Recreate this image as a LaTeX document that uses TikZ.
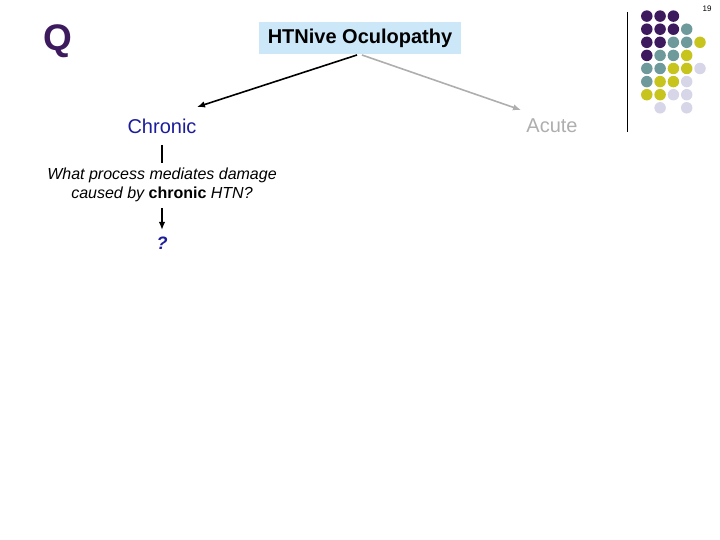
\documentclass[tikz,border=0pt]{standalone}
\usepackage{fontspec}
\setmainfont{Liberation Sans}
\usetikzlibrary{arrows.meta}
\definecolor{dpurple}{HTML}{3D1A5E}
\definecolor{dteal}{HTML}{6E9A9C}
\definecolor{dyellow}{HTML}{C8C41E}
\definecolor{dlav}{HTML}{D6D6E8}
\definecolor{boxblue}{HTML}{CCE8F8}
\definecolor{chblue}{HTML}{1C1C9C}
\definecolor{lgray}{HTML}{AEAEAE}
\begin{document}
\begin{tikzpicture}[x=1pt,y=-1pt,
  dot/.style={circle,inner sep=0pt,minimum size=11.5pt},
  lbl/.style={inner sep=1pt,font=\fontsize{20}{22}\selectfont},
  blackarrow/.style={-{Latex[length=8pt,width=6.5pt]},line width=1.6pt,black},
  grayarrow/.style={-{Latex[length=8pt,width=6.5pt]},line width=1.6pt,lgray}]
\useasboundingbox (0,0) rectangle (720,540);
% dots
\foreach \c/\r/\col in {1/1/dpurple,2/1/dpurple,3/1/dpurple,
  1/2/dpurple,2/2/dpurple,3/2/dpurple,4/2/dteal,
  1/3/dpurple,2/3/dpurple,3/3/dteal,4/3/dteal,5/3/dyellow,
  1/4/dpurple,2/4/dteal,3/4/dteal,4/4/dyellow,
  1/5/dteal,2/5/dteal,3/5/dyellow,4/5/dyellow,5/5/dlav,
  1/6/dteal,2/6/dyellow,3/6/dyellow,4/6/dlav,
  1/7/dyellow,2/7/dyellow,3/7/dlav,4/7/dlav,
  2/8/dlav,4/8/dlav}
  \node[dot,fill=\col] (d\c\r) at ({633.5+13.3*\c},{3+13.1*\r}) {};
\draw[line width=1pt] (627,12) coordinate (vtop) -- (627,132) coordinate (vbot);
\node (pnum) at (707,9) {\fontsize{8}{9}\selectfont 19};
\node[text=dpurple,font=\fontsize{37}{39}\selectfont\bfseries] (q) at (58,41) {Q};
\node[fill=boxblue,minimum width=202pt,minimum height=32pt,inner sep=0pt,
  font=\fontsize{20}{22}\selectfont\bfseries] (title) at (360,38) {HTNive Oculopathy};
\node[lbl,text=chblue] (chronic) at (162,126) {Chronic};
\node[lbl,text=lgray] (acute) at (552,126) {Acute};
\coordinate (bs) at (357,55);
\coordinate (be) at (197,107);
\coordinate (gs) at (362,55);
\coordinate (ge) at (521,110);
\draw[blackarrow] (bs) -- (be);
\draw[grayarrow] (gs) -- (ge);
\node[align=center,font=\fontsize{16}{19}\selectfont\itshape,inner sep=1pt] (q1) at (162,185)
  {What process mediates damage\\caused by {\upshape\bfseries chronic} HTN?};
\coordinate (l1) at (162,145);
\coordinate (l2) at (162,163);
\draw[line width=1.6pt] (l1) -- (l2);
\node[text=chblue,font=\fontsize{18}{20}\selectfont\bfseries\itshape,inner sep=1pt] (ans) at (162,243) {?};
\coordinate (a1) at (162,208);
\coordinate (a2) at (162,230);
\draw[blackarrow] (a1) -- (a2);
\end{tikzpicture}
\end{document}
